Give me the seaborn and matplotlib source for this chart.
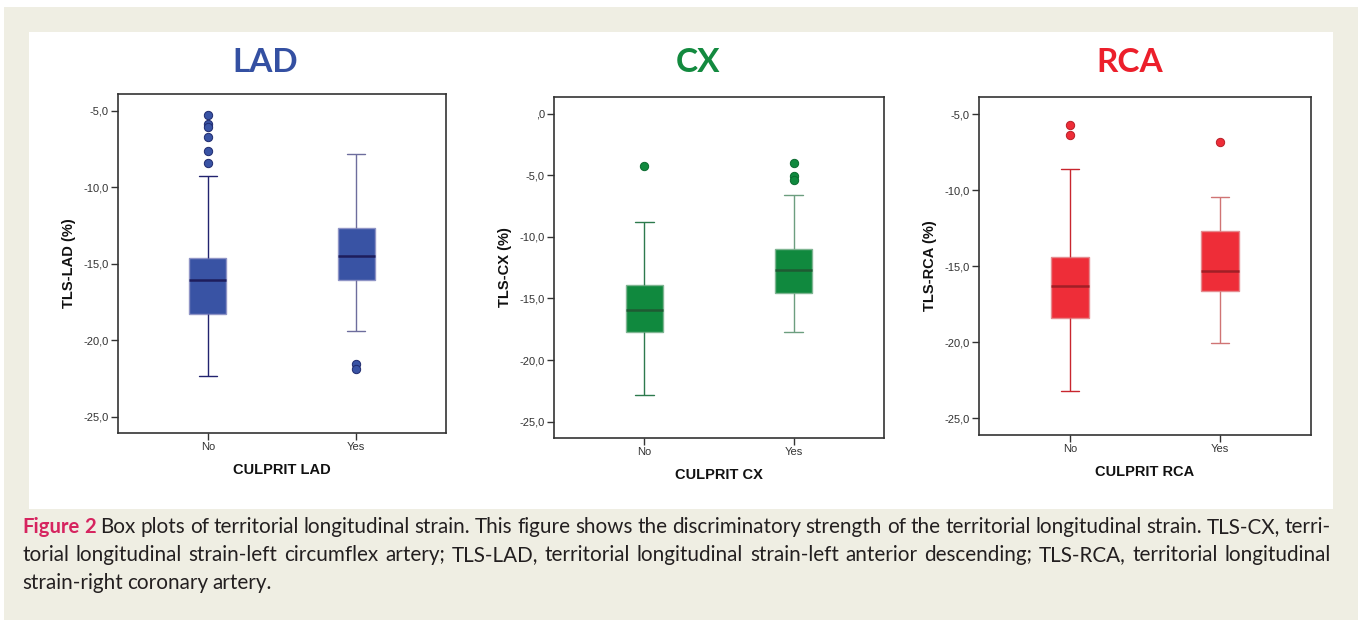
import numpy as np
import pandas as pd
import seaborn as sns
import matplotlib.pyplot as plt
from matplotlib.patches import Rectangle

W, H = 1360, 620

groups = ['No', 'Yes']
panels = ['LAD', 'CX', 'RCA']

# five-number summaries: whisker low, Q1, median, Q3, whisker high
lad_no = [-22.36, -18.27, -16.05, -14.60, -9.25]
lad_yes = [-19.42, -16.07, -14.48, -12.69, -7.81]
cx_no = [-22.81, -17.75, -15.96, -13.87, -8.78]
cx_yes = [-17.75, -14.52, -12.71, -10.98, -6.59]
rca_no = [-23.22, -18.38, -16.28, -14.39, -8.62]
rca_yes = [-20.03, -16.63, -15.33, -12.70, -10.44]

# outliers
lad_no_out = [-5.26, -5.89, -6.05, -6.74, -7.65, -8.44]
lad_yes_out = [-21.58, -21.90]
cx_no_out = [-4.23]
cx_yes_out = [-4.01, -5.07, -5.39]
rca_no_out = [-5.75, -6.36]
rca_yes_out = [-6.87]

ylims = {'LAD': (-26.07, -3.9), 'CX': (-26.34, 1.38), 'RCA': (-26.1, -3.88)}
yticks = {'LAD': [-25, -20, -15, -10, -5],
          'CX': [-25, -20, -15, -10, -5, 0],
          'RCA': [-25, -20, -15, -10, -5]}

styles = {
    'LAD': dict(face='#3953a4', edge='#8f94c6', median='#1e1d5c',
                whisk=['#22236f', '#6d6d9d'], oedge='#1f2a6e', title='#3450a2'),
    'CX': dict(face='#10893e', edge='#7fb592', median='#1f5a33',
               whisk=['#2d7a4d', '#6c9e7f'], oedge='#0a6a2f', title='#138a3f'),
    'RCA': dict(face='#ee2d38', edge='#e58b8f', median='#a01f26',
                whisk=['#c8262e', '#d07474'], oedge='#b81f27', title='#ec1f2b'),
}

summaries = {'LAD': [lad_no, lad_yes], 'CX': [cx_no, cx_yes], 'RCA': [rca_no, rca_yes]}
outliers = {'LAD': [lad_no_out, lad_yes_out], 'CX': [cx_no_out, cx_yes_out],
            'RCA': [rca_no_out, rca_yes_out]}

# axes boxes in pixels: left, top, right, bottom
ax_px = {'LAD': (118, 94, 446, 433), 'CX': (554, 97, 884, 438), 'RCA': (979, 97, 1311, 435)}
title_x = {'LAD': 265, 'CX': 698, 'RCA': 1130}

sns.set_style('white')
plt.rcParams['font.family'] = ['Liberation Sans', 'DejaVu Sans']

fig = plt.figure(figsize=(W / 100, H / 100), dpi=100)
fig.patch.set_facecolor('white')
fig.patches.append(Rectangle((4 / W, 0), (1358 - 4) / W, (H - 7) / H,
                             transform=fig.transFigure, facecolor='#efeee3',
                             edgecolor='none', zorder=-10))
fig.patches.append(Rectangle((29 / W, 1 - 509 / H), (1333 - 29) / W, (509 - 32) / H,
                             transform=fig.transFigure, facecolor='white',
                             edgecolor='none', zorder=-9))


def tick_fmt(v):
    s = f'{v:.1f}'.replace('.', ',')
    return ',0' if v == 0 else s


for name in panels:
    l, t, r, b = ax_px[name]
    ax = fig.add_axes([l / W, 1 - b / H, (r - l) / W, (b - t) / H])
    ax.set_facecolor('white')
    st = styles[name]

    for i, g in enumerate(groups):
        df = pd.DataFrame({'group': g, 'value': summaries[name][i]})
        sns.boxplot(data=df, x='group', y='value', order=groups, width=0.25,
                    color=st['face'], saturation=1, linecolor=st['edge'],
                    whis=(0, 100), showfliers=False, linewidth=1,
                    whiskerprops=dict(color=st['whisk'][i], linewidth=1),
                    capprops=dict(color=st['whisk'][i], linewidth=1),
                    medianprops=dict(color=st['median'], linewidth=1.8),
                    ax=ax)
        out = outliers[name][i]
        sns.stripplot(x=[g] * len(out), y=out, order=groups, jitter=False,
                      color=st['face'], edgecolor=st['oedge'], linewidth=0.7,
                      size=6, ax=ax, zorder=5)

    ax.set_xlim(-0.606, 1.606)
    ax.set_ylim(*ylims[name])
    ax.set_yticks(yticks[name])
    ax.set_yticklabels([tick_fmt(v) for v in yticks[name]])
    ax.tick_params(axis='both', which='both', direction='out', length=5, width=1,
                   color='#333333', labelsize=8, labelcolor='#333333', pad=1.5,
                   left=True, bottom=True)
    for sp in ax.spines.values():
        sp.set_visible(True)
        sp.set_color('#333333')
        sp.set_linewidth(1.2)

    ax.set_xlabel(f'CULPRIT {name}', fontsize=10.5, fontweight='bold', color='#111111')
    ax.set_ylabel(f'TLS-{name} (%)', fontsize=10.5, fontweight='bold', color='#111111')
    ax.xaxis.set_label_coords(0.5, -30 / (b - t))
    ax.yaxis.set_label_coords(-42 / (r - l), 0.5)

    fig.text(title_x[name] / W, 1 - 63 / H, name, ha='center', va='center',
             fontsize=24, fontweight='bold', color=st['title'], family=['Lato', 'DejaVu Sans'])

# caption, justified like the journal layout
cap_lines = [
    'Figure 2 Box plots of territorial longitudinal strain. This figure shows the '
    'discriminatory strength of the territorial longitudinal strain. TLS-CX, terri-',
    'torial longitudinal strain-left circumflex artery; TLS-LAD, territorial longitudinal '
    'strain-left anterior descending; TLS-RCA, territorial longitudinal',
    'strain-right coronary artery.',
]
baselines = [533, 561, 589]
x0, x1 = 22, 1331
renderer = fig.canvas.get_renderer()

for li, (line, yb) in enumerate(zip(cap_lines, baselines)):
    words = line.split(' ')
    texts = []
    for wi, w in enumerate(words):
        bold = li == 0 and wi < 2
        txt = fig.text(0, 1 - yb / H, w, ha='left', va='baseline',
                       fontsize=14.6 if bold else 14.9,
                       family=['Lato', 'DejaVu Sans'],
                       fontweight='bold' if bold else 'normal',
                       color='#d6245f' if bold else '#231f20')
        texts.append(txt)
    widths = [tx.get_window_extent(renderer).width for tx in texts]
    if li < 2:
        gap = (x1 - x0 - sum(widths)) / (len(words) - 1)
    else:
        gap = 4.4
    x = x0
    for tx, w in zip(texts, widths):
        tx.set_x(x / W)
        x += w + gap

fig.savefig('out.png', dpi=100)
